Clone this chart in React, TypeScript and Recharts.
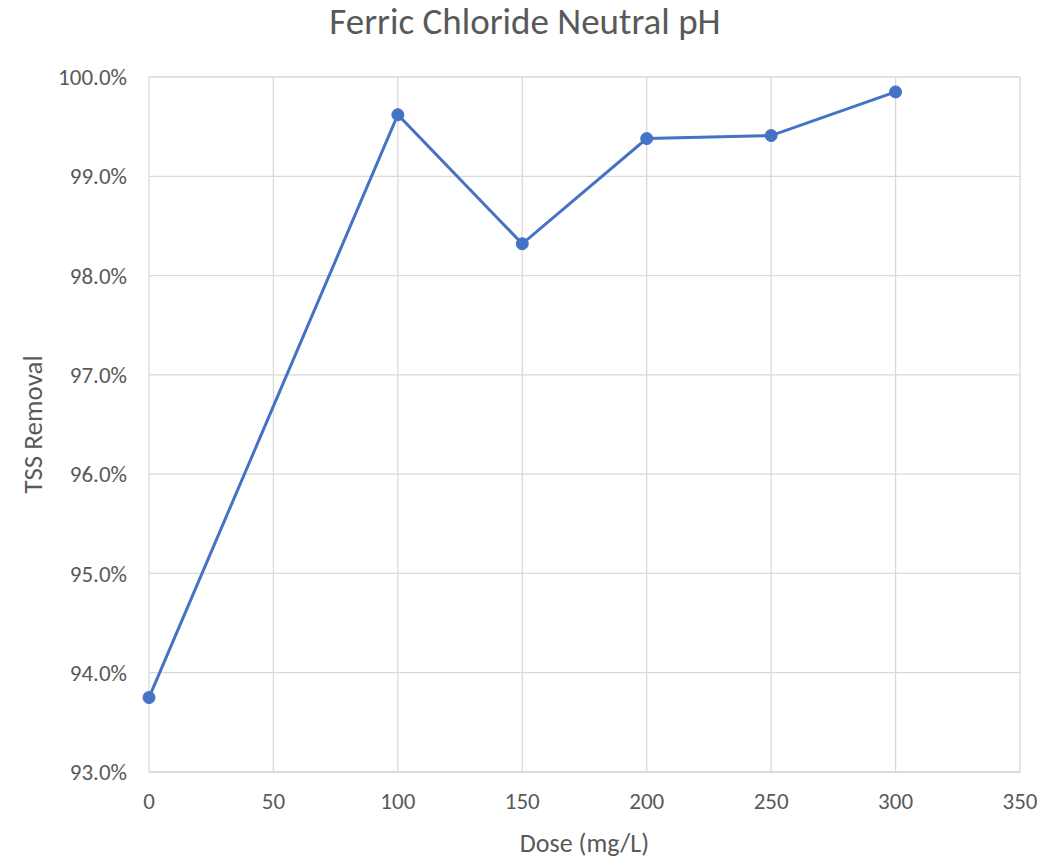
import { LineChart, Line, XAxis, YAxis, CartesianGrid, Label } from "recharts";

const doses = [0, 100, 150, 200, 250, 300];
const removal = [93.75, 99.62, 98.32, 99.38, 99.41, 99.85];
const xTicks = [0, 50, 100, 150, 200, 250, 300, 350];
const yTicks = [93, 94, 95, 96, 97, 98, 99, 100];

const data = doses.map((d, i) => ({ dose: d, tss: removal[i] }));

const font = "Carlito, Calibri, 'Open Sans', 'Liberation Sans', sans-serif";
const gray = "#595959";

export default function App() {
  return (
    <div style={{ position: "absolute", left: 0, top: 0, width: 1058, height: 858, background: "#fff", fontFamily: font }}>
      <div style={{ position: "absolute", top: 0, width: 1058, left: -4, textAlign: "center", fontSize: 37, lineHeight: "44px", color: gray }}>
        Ferric Chloride Neutral pH
      </div>
      <LineChart width={1058} height={858} data={data} margin={{ top: 77, right: 38, bottom: 56, left: 0 }}>
        <CartesianGrid stroke="#d9d9d9" strokeWidth={1.3} />
        <XAxis
          dataKey="dose"
          type="number"
          domain={[0, 350]}
          ticks={xTicks}
          tickLine={false}
          axisLine={{ stroke: "#d9d9d9", strokeWidth: 1.3 }}
          tick={{ fill: gray, fontSize: 23, fontFamily: font }}
          tickMargin={15}
        >
          <Label value="Dose (mg/L)" position="bottom" offset={32} fill={gray} fontSize={26} fontFamily={font} />
        </XAxis>
        <YAxis
          type="number"
          domain={[93, 100]}
          ticks={yTicks}
          width={149}
          tickLine={false}
          axisLine={false}
          tickFormatter={(v: number) => v.toFixed(1) + "%"}
          tick={{ fill: gray, fontSize: 23, fontFamily: font }}
          tickMargin={16}
        >
          <Label value="TSS Removal" angle={-90} position="insideLeft" offset={32} fill={gray} fontSize={27} fontFamily={font} style={{ textAnchor: "middle" }} />
        </YAxis>
        <Line
          dataKey="tss"
          stroke="#4472C4"
          strokeWidth={3}
          dot={{ r: 6, fill: "#4472C4", stroke: "#4472C4", strokeWidth: 1 }}
          isAnimationActive={false}
        />
      </LineChart>
    </div>
  );
}
